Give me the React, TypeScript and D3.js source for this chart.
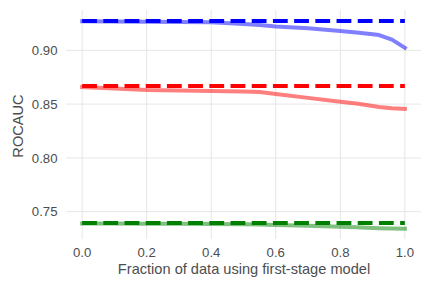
import React from "react";
import * as d3 from "d3";

const W = 432;
const H = 288;

const xTicks = [0, 0.2, 0.4, 0.6, 0.8, 1.0];
const yTicks = [0.75, 0.8, 0.85, 0.9];

const fracs = [0, 0.1, 0.2, 0.3, 0.4, 0.5, 0.55, 0.6, 0.7, 0.8, 0.85, 0.9, 0.92, 0.96, 1.0];
const blueSolid = [0.927, 0.9268, 0.9266, 0.9264, 0.9262, 0.9245, 0.9235, 0.9222, 0.9205, 0.918, 0.9165, 0.915, 0.9142, 0.910, 0.9024];
const redSolid = [0.8658, 0.8645, 0.8632, 0.8627, 0.8622, 0.8617, 0.8612, 0.8595, 0.8558, 0.8522, 0.8505, 0.8482, 0.8474, 0.8462, 0.8455];
const greenSolid = [0.739, 0.7389, 0.7388, 0.7387, 0.7386, 0.7383, 0.7381, 0.7377, 0.737, 0.7361, 0.7355, 0.7348, 0.7346, 0.7344, 0.7342];

const blueBase = 0.9272;
const redBase = 0.8668;
const greenBase = 0.7395;

export default function App() {
  const left = 66, right = 421, top = 10, bottom = 239;
  const x = d3.scaleLinear().domain([-0.05, 1.05]).range([left, right]);
  const y = d3.scaleLinear().domain([0.7246, 0.9375]).range([bottom, top]);
  const line = d3
    .line<number>()
    .x((_, i) => x(fracs[i]))
    .y((d) => y(d));
  const font = "'Liberation Sans', Arial, sans-serif";
  const textColor = "#4d4d4d";
  const series = [
    { solid: blueSolid, base: blueBase, color: "#0000ff" },
    { solid: redSolid, base: redBase, color: "#ff0000" },
    { solid: greenSolid, base: greenBase, color: "#008000" },
  ];
  return (
    <svg width={W} height={H} style={{ position: "absolute", left: 0, top: 0 }}>
      <rect width={W} height={H} fill="#ffffff" />
      {xTicks.map((t) => (
        <line key={"gx" + t} x1={x(t)} x2={x(t)} y1={top} y2={bottom} stroke="#e6e6e6" strokeWidth={1} />
      ))}
      {yTicks.map((t) => (
        <line key={"gy" + t} x1={left} x2={right} y1={y(t)} y2={y(t)} stroke="#e6e6e6" strokeWidth={1} />
      ))}
      {series.map((s, i) => (
        <g key={i}>
          <path
            d={line(s.solid) || ""}
            fill="none"
            stroke={s.color}
            strokeOpacity={0.5}
            strokeWidth={4}
            strokeLinecap="square"
            strokeLinejoin="round"
          />
          <line
            x1={x(0)}
            x2={x(1)}
            y1={y(s.base)}
            y2={y(s.base)}
            stroke={s.color}
            strokeWidth={4}
            strokeDasharray="14.8 6.4"
          />
        </g>
      ))}
      {xTicks.map((t) => (
        <text
          key={"tx" + t}
          x={x(t)}
          y={256.5}
          textAnchor="middle"
          fontFamily={font}
          fontSize={13.2}
          fill={textColor}
        >
          {t.toFixed(1)}
        </text>
      ))}
      {yTicks.map((t) => (
        <text
          key={"ty" + t}
          x={57.5}
          y={y(t)}
          dy="0.35em"
          textAnchor="end"
          fontFamily={font}
          fontSize={13.2}
          fill={textColor}
        >
          {t.toFixed(2)}
        </text>
      ))}
      <text
        x={244}
        y={273.5}
        textAnchor="middle"
        fontFamily={font}
        fontSize={14.6}
        fill={textColor}
      >
        Fraction of data using first-stage model
      </text>
      <text
        transform={`translate(22.5, 126) rotate(-90)`}
        textAnchor="middle"
        fontFamily={font}
        fontSize={14.6}
        fill={textColor}
      >
        ROCAUC
      </text>
    </svg>
  );
}
